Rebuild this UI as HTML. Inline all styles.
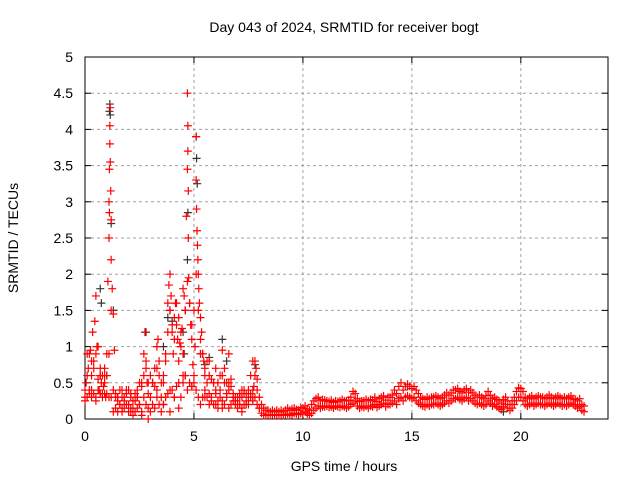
<!DOCTYPE html>
<html><head><meta charset="utf-8"><style>
body{margin:0;background:#fff;width:640px;height:480px;overflow:hidden}
svg text{font-family:"Liberation Sans",sans-serif;font-size:14px;fill:#000}
</style></head><body>
<svg id="chart" width="640" height="480">
<text x="344" y="32" text-anchor="middle">Day 043 of 2024, SRMTID for receiver bogt</text>
<text x="344" y="471" text-anchor="middle">GPS time / hours</text>
<text transform="translate(18,238) rotate(-90)" text-anchor="middle">SRMTID / TECUs</text>
<g id="grid"></g>
<g id="axes"></g>
<g id="pts"></g>
</svg>
<script>
const xTicks=[0,5,10,15,20];
const yTicks=[0,0.5,1,1.5,2,2.5,3,3.5,4,4.5,5];
const yTickLabels=["0","0.5","1","1.5","2","2.5","3","3.5","4","4.5","5"];
const redT=[0.0,0.05,0.1,0.15,0.2,0.25,0.3,0.35,0.4,0.45,0.5,0.55,0.6,0.65,0.7,0.75,0.8,0.85,0.9,0.95,1.0,1.05,1.1,1.1,1.12,1.12,1.14,1.14,1.16,1.16,1.18,1.2,1.2,1.25,1.3,1.35,1.4,1.5,1.6,1.7,1.8,1.9,2.0,2.1,2.2,2.3,2.4,2.5,2.6,2.7,2.75,2.8,2.85,2.9,3.0,3.1,3.2,3.3,3.35,3.4,3.5,3.6,3.7,3.8,3.85,3.9,3.95,4.0,4.05,4.1,4.15,4.2,4.25,4.3,4.35,4.4,4.45,4.5,4.55,4.6,4.65,4.7,4.7,4.72,4.72,4.74,4.74,4.76,4.8,4.85,4.9,4.95,5.0,5.05,5.1,5.1,5.12,5.14,5.16,5.18,5.2,5.22,5.25,5.3,5.35,5.4,5.45,5.5,5.6,5.7,5.8,5.9,6.0,6.1,6.2,6.3,6.4,6.5,6.6,6.7,6.8,6.9,7.0,7.1,7.2,7.3,7.4,7.5,7.6,7.7,7.75,7.8,7.85,7.9,0.3,0.5,0.7,0.9,1.5,1.7,2.1,2.4,2.6,2.9,3.1,3.3,3.6,3.9,4.1,4.3,4.5,4.9,5.3,5.5,5.7,6.0,6.3,6.6,6.9,7.2,7.7,8.0];
const redV=[0.3,0.5,0.9,0.7,0.4,0.95,0.6,1.2,0.8,1.35,1.7,1.0,0.55,0.4,0.6,0.5,0.35,0.45,0.6,0.3,0.9,1.9,2.5,3.0,2.85,3.45,3.8,4.05,4.3,3.55,3.15,2.75,2.2,1.8,1.45,0.95,0.3,0.25,0.2,0.15,0.3,0.4,0.2,0.35,0.15,0.25,0.3,0.2,0.5,0.9,1.2,0.7,0.5,0.35,0.3,0.5,0.45,0.7,1.1,0.6,0.3,0.5,0.8,1.6,1.85,2.0,1.7,1.2,0.9,1.4,1.6,1.3,1.1,0.8,1.05,1.0,1.25,0.9,1.7,1.5,2.8,3.45,4.5,4.05,3.7,3.15,2.5,1.95,1.6,1.3,1.1,0.75,0.6,1.0,3.9,3.3,2.9,2.6,2.4,2.2,2.0,1.8,1.6,1.4,1.2,0.9,0.8,0.6,0.5,0.35,0.3,0.5,0.35,0.25,0.4,0.6,0.5,0.35,0.9,0.55,0.3,0.25,0.2,0.3,0.4,0.35,0.2,0.3,0.35,0.25,0.45,0.8,0.7,0.55,0.4,0.25,0.6,0.7,0.3,0.4,0.1,0.3,0.05,0.0,0.5,0.4,0.2,0.1,0.3,0.15,0.6,0.45,0.9,0.3,0.8,0.7,0.15,0.5,0.25,0.1,0.3,0.15,0.2,0.1];
const bandT=[0,0.1,0.2,0.3,0.4,0.5,0.6,0.7,0.8,0.9,1,1.1,1.2,1.3,1.4,1.5,1.6,1.7,1.8,1.9,2,2.1,2.2,2.3,2.4,2.5,2.6,2.7,2.8,2.9,3,3.1,3.2,3.3,3.4,3.5,3.6,3.7,3.8,3.9,4,4.1,4.2,4.3,4.4,4.5,4.6,4.7,4.8,4.9,5,5.1,5.2,5.3,5.4,5.5,5.6,5.7,5.8,5.9,6,6.1,6.2,6.3,6.4,6.5,6.6,6.7,6.8,6.9,7,7.1,7.2,7.3,7.4,7.5,7.6,7.7,7.8,7.9,8,8.1,8.2,8.3,8.4,8.5,8.6,8.7,8.8,8.9,9,9.1,9.2,9.3,9.4,9.5,9.6,9.7,9.8,9.9,10,10.1,10.2,10.3,10.4,10.5,10.6,10.7,10.8,10.9,11,11.1,11.2,11.3,11.4,11.5,11.6,11.7,11.8,11.9,12,12.1,12.2,12.3,12.4,12.5,12.6,12.7,12.8,12.9,13,13.1,13.2,13.3,13.4,13.5,13.6,13.7,13.8,13.9,14,14.1,14.2,14.3,14.4,14.5,14.6,14.7,14.8,14.9,15,15.1,15.2,15.3,15.4,15.5,15.6,15.7,15.8,15.9,16,16.1,16.2,16.3,16.4,16.5,16.6,16.7,16.8,16.9,17,17.1,17.2,17.3,17.4,17.5,17.6,17.7,17.8,17.9,18,18.1,18.2,18.3,18.4,18.5,18.6,18.7,18.8,18.9,19,19.1,19.2,19.3,19.4,19.5,19.6,19.7,19.8,19.9,20,20.1,20.2,20.3,20.4,20.5,20.6,20.7,20.8,20.9,21,21.1,21.2,21.3,21.4,21.5,21.6,21.7,21.8,21.9,22,22.1,22.2,22.3,22.4,22.5,22.6,22.7,22.8,22.9];
const bandLo=[0.25,0.3,0.35,0.3,0.35,0.3,0.4,0.35,0.3,0.35,0.35,0.3,0.3,0.1,0.15,0.1,0.2,0.1,0.15,0.2,0.1,0.15,0.05,0.1,0.15,0.2,0.1,0.3,0.2,0.15,0.1,0.2,0.15,0.3,0.2,0.1,0.2,0.3,0.35,0.4,0.4,0.3,0.45,0.5,0.3,0.5,0.6,0.4,0.5,0.45,0.5,0.4,0.3,0.2,0.3,0.4,0.3,0.2,0.25,0.2,0.2,0.15,0.3,0.25,0.2,0.3,0.15,0.2,0.25,0.2,0.15,0.2,0.15,0.2,0.25,0.2,0.3,0.4,0.3,0.2,0.15,0.08,0.05,0.05,0.06,0.05,0.06,0.05,0.06,0.05,0.06,0.05,0.06,0.07,0.05,0.06,0.08,0.07,0.06,0.08,0.08,0.1,0.07,0.05,0.08,0.12,0.15,0.18,0.15,0.17,0.17,0.18,0.16,0.17,0.15,0.18,0.17,0.16,0.18,0.17,0.15,0.17,0.2,0.22,0.25,0.18,0.15,0.17,0.16,0.18,0.15,0.18,0.17,0.2,0.16,0.18,0.2,0.22,0.17,0.2,0.2,0.22,0.25,0.2,0.28,0.3,0.25,0.3,0.32,0.3,0.28,0.3,0.25,0.22,0.2,0.18,0.17,0.2,0.18,0.2,0.2,0.22,0.2,0.18,0.2,0.22,0.25,0.22,0.25,0.28,0.28,0.3,0.27,0.25,0.28,0.3,0.25,0.28,0.25,0.22,0.2,0.22,0.2,0.18,0.2,0.25,0.22,0.18,0.2,0.17,0.15,0.13,0.17,0.2,0.15,0.12,0.15,0.2,0.25,0.3,0.3,0.25,0.2,0.18,0.2,0.22,0.18,0.2,0.22,0.2,0.2,0.18,0.2,0.22,0.2,0.18,0.2,0.22,0.2,0.18,0.2,0.18,0.2,0.22,0.2,0.18,0.15,0.17,0.12,0.1];
const bandHi=[0.4,0.6,0.9,0.8,0.7,0.9,1.0,0.7,0.6,0.5,0.6,0.9,1.5,0.4,0.35,0.3,0.4,0.3,0.25,0.35,0.4,0.3,0.25,0.35,0.4,0.5,0.45,0.6,0.8,0.5,0.6,0.5,0.7,1.0,0.8,0.5,0.6,0.9,1.2,1.5,1.3,1.1,1.6,1.4,1.2,1.8,1.5,1.9,1.6,1.3,1.5,2.0,1.5,1.1,0.9,0.7,0.8,0.6,0.55,0.5,0.4,0.5,0.6,0.95,0.7,0.5,0.4,0.45,0.35,0.3,0.3,0.35,0.3,0.4,0.35,0.4,0.6,0.8,0.6,0.4,0.3,0.2,0.15,0.12,0.12,0.1,0.12,0.1,0.12,0.1,0.12,0.1,0.12,0.15,0.12,0.14,0.15,0.13,0.12,0.16,0.15,0.18,0.14,0.12,0.2,0.25,0.28,0.3,0.25,0.27,0.26,0.25,0.24,0.26,0.23,0.25,0.24,0.25,0.27,0.25,0.25,0.26,0.3,0.38,0.35,0.28,0.24,0.25,0.25,0.27,0.25,0.27,0.26,0.3,0.24,0.28,0.3,0.32,0.26,0.3,0.3,0.33,0.4,0.35,0.45,0.5,0.4,0.45,0.48,0.45,0.42,0.45,0.4,0.35,0.3,0.28,0.27,0.3,0.28,0.3,0.3,0.32,0.3,0.28,0.3,0.33,0.36,0.33,0.36,0.4,0.4,0.42,0.38,0.36,0.4,0.42,0.37,0.4,0.36,0.33,0.3,0.33,0.3,0.28,0.32,0.38,0.33,0.28,0.3,0.27,0.25,0.22,0.27,0.3,0.25,0.2,0.25,0.3,0.38,0.43,0.42,0.38,0.3,0.28,0.3,0.32,0.28,0.3,0.32,0.3,0.3,0.28,0.3,0.33,0.3,0.28,0.3,0.32,0.3,0.28,0.3,0.28,0.3,0.32,0.28,0.27,0.25,0.28,0.2,0.18];
const blackT=[0.7,0.75,1.12,1.14,1.16,1.2,1.3,3.6,3.8,3.9,4.0,4.5,4.55,4.6,4.7,4.72,5.1,5.12,5.15,5.3,5.5,5.7,6.3,6.5,7.8,2.8,1.0,14.8,19.2];
const blackV=[1.8,1.6,4.25,4.35,4.2,2.7,1.5,1.0,1.4,1.5,1.35,1.2,0.9,0.6,2.2,2.85,3.9,3.6,3.25,0.9,0.75,0.85,1.1,0.8,0.75,1.2,0.6,0.45,0.1];
const NS="http://www.w3.org/2000/svg";
const X0=85,X1=608,Y0=419,Y1=57;
function sx(v){return X0+(v/24)*(X1-X0);}
function sy(v){return Y0-(v/5)*(Y0-Y1);}
function mk(tag,at,parent){const e=document.createElementNS(NS,tag);for(const k in at)e.setAttribute(k,at[k]);parent.appendChild(e);return e;}
const grid=document.getElementById('grid'),axes=document.getElementById('axes'),pts=document.getElementById('pts');
yTicks.forEach((v,i)=>{
  if(i>0&&i<yTicks.length-1){const g=mk('line',{x1:X0,x2:X1,y1:sy(v),y2:sy(v),stroke:'#a0a0a0','stroke-dasharray':'3,3'},grid);
  
  }
  const t=mk('text',{x:X0-12,y:sy(v)+5,'text-anchor':'end'},axes);t.textContent=yTickLabels[i];
  
  
  mk('line',{x1:X0,x2:X0+6,y1:sy(v),y2:sy(v),stroke:'#000'},axes);
  mk('line',{x1:X1,x2:X1-6,y1:sy(v),y2:sy(v),stroke:'#000'},axes);
});
xTicks.forEach(v=>{
  if(v>0){const g=mk('line',{x1:sx(v),x2:sx(v),y1:Y0,y2:Y1,stroke:'#a0a0a0','stroke-dasharray':'3,3'},grid);
  
  }
  const t=mk('text',{x:sx(v),y:Y0+22,'text-anchor':'middle'},axes);t.textContent=String(v);
  
  
  mk('line',{x1:sx(v),x2:sx(v),y1:Y0,y2:Y0-6,stroke:'#000'},axes);
  mk('line',{x1:sx(v),x2:sx(v),y1:Y1,y2:Y1+6,stroke:'#000'},axes);
});
mk('rect',{x:X0,y:Y1,width:X1-X0,height:Y0-Y1,fill:'none',stroke:'#000'},axes);
function plus(t,v,c){const x=sx(t),y=sy(v);
  const p=mk('path',{d:`M${x-4},${y}h8M${x},${y-4}v8`,stroke:c,'stroke-width':1.2,fill:'none'},pts);
  
  }
blackT.forEach((t,i)=>plus(t,blackV[i],'#333'));
redT.forEach((t,i)=>plus(t,redV[i],'#ff0000'));
bandT.forEach((t,i)=>{plus(t,bandLo[i],'#ff0000');plus(t,bandHi[i],'#ff0000');});
</script>
</body></html>
